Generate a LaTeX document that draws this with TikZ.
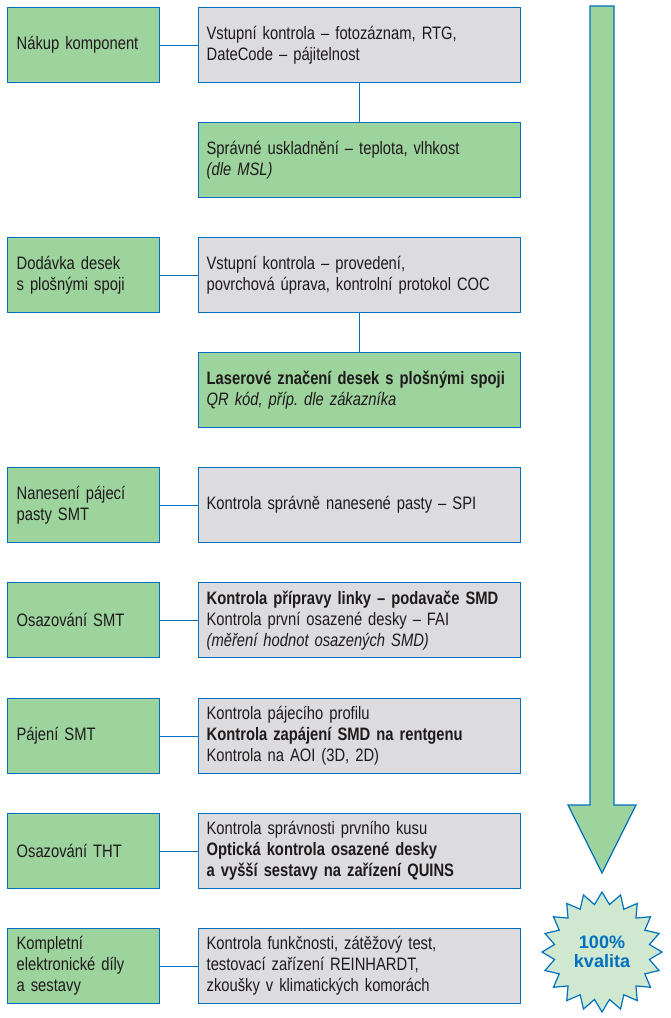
\documentclass[tikz,border=0pt]{standalone}
\usepackage{fontspec}
\setmainfont[FakeStretch=0.82]{Liberation Sans}
\newfontfamily\starfont{Liberation Sans}
\usetikzlibrary{shapes.geometric}
\definecolor{bgreen}{RGB}{157,211,157}
\definecolor{bgray}{RGB}{220,220,222}
\definecolor{bblue}{RGB}{0,112,192}
\definecolor{txt}{RGB}{30,26,27}
\definecolor{sgreen}{RGB}{207,232,207}
\tikzset{
  base/.style={draw=bblue, line width=1.3pt, anchor=north west, minimum height=75pt,
    inner xsep=8pt, inner ysep=2pt, align=left, text=txt,
    font=\fontsize{18pt}{21pt}\selectfont},
  leftbox/.style={base, fill=bgreen, minimum width=152pt, text width=134pt},
  rightbox/.style={base, fill=bgray, minimum width=322pt, text width=306pt},
  rightgreen/.style={base, fill=bgreen, minimum width=322pt, text width=306pt},
  conn/.style={draw=bblue, line width=1.3pt}
}
\begin{document}
\begin{tikzpicture}[x=1pt,y=-1pt]
\useasboundingbox (0,0) rectangle (670,1018);
% row 1
\node[leftbox] (l1) at (7,7) {Nákup komponent};
\node[rightbox] (r1) at (198,7) {Vstupní kontrola – fotozáznam, RTG,\\DateCode – pájitelnost};
\node[rightgreen] (g1) at (198,122) {Správné uskladnění – teplota, vlhkost\\\textit{(dle MSL)}};
% row 2
\node[leftbox] (l2) at (7,237) {Dodávka desek\\s plošnými spoji};
\node[rightbox] (r2) at (198,237) {Vstupní kontrola – provedení,\\povrchová úprava, kontrolní protokol COC};
\node[rightgreen] (g2) at (198,352) {\textbf{Laserové značení desek s plošnými spoji}\\\textit{QR kód, příp.\ dle zákazníka}};
% row 3
\node[leftbox] (l3) at (7,467) {Nanesení pájecí\\pasty SMT};
\node[rightbox] (r3) at (198,467) {Kontrola správně nanesené pasty – SPI};
% row 4
\node[leftbox] (l4) at (7,582) {Osazování SMT};
\node[rightbox] (r4) at (198,582) {\textbf{Kontrola přípravy linky – podavače SMD}\\Kontrola první osazené desky – FAI\\\textit{(měření hodnot osazených SMD)}};
% row 5
\node[leftbox] (l5) at (7,698) {Pájení SMT};
\node[rightbox] (r5) at (198,698) {Kontrola pájecího profilu\\\textbf{Kontrola zapájení SMD na rentgenu}\\Kontrola na AOI (3D, 2D)};
% row 6
\node[leftbox] (l6) at (7,813) {Osazování THT};
\node[rightbox] (r6) at (198,813) {Kontrola správnosti prvního kusu\\\textbf{Optická kontrola osazené desky}\\\textbf{a vyšší sestavy na zařízení QUINS}};
% row 7
\node[leftbox] (l7) at (7,928) {Kompletní\\elektronické díly\\a sestavy};
\node[rightbox] (r7) at (198,928) {Kontrola funkčnosti, zátěžový test,\\testovací zařízení REINHARDT,\\zkoušky v klimatických komorách};
% connectors
\foreach \i in {1,...,7} \draw[conn] (l\i.east) -- (r\i.west);
\draw[conn] (r1.south) -- (g1.north);
\draw[conn] (r2.south) -- (g2.north);
% big arrow
\draw[draw=bblue, fill=bgreen, line width=1.3pt, line join=miter]
  (590,6) -- (614,6) -- (614,805) -- (636,805) -- (602,873) -- (568,805) -- (590,805) -- cycle;
% star
\node[star, star points=20, star point ratio=1.25, minimum size=120pt, inner sep=0pt,
  draw=bblue, fill=sgreen, line width=1.2pt, align=center, text=bblue,
  font=\starfont\bfseries\fontsize{18pt}{19pt}\selectfont] (q) at (602,952) {100\%\\kvalita};
\end{tikzpicture}
\end{document}
